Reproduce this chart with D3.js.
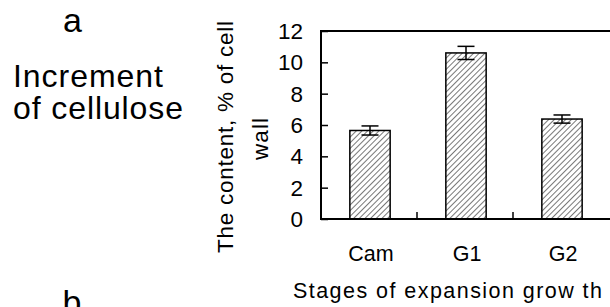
<!DOCTYPE html>
<html>
<head>
<meta charset="utf-8">
<script src="https://cdn.jsdelivr.net/npm/d3@7"></script>
<style>
  html, body { margin: 0; padding: 0; background: #fff; }
  svg { display: block; font-family: "Liberation Sans", Arial, sans-serif; }
</style>
</head>
<body>
<svg id="chart" width="610" height="307"></svg>
<script>
const categories = ["Cam", "G1", "G2"];
const values = [5.65, 10.6, 6.38];
const errors = [0.29, 0.42, 0.26];
const yTicks = [0, 2, 4, 6, 8, 10, 12];

const svg = d3.select("#chart");
const x = d3.scaleBand().domain(categories).range([322, 610]).paddingInner(0.58).paddingOuter(0.29);
const xb = d3.scaleBand().domain(categories).range([322, 610]);
const y = d3.scaleLinear().domain([0, 12]).range([219, 31]);

const defs = svg.append("defs");
const pat = defs.append("pattern").attr("id", "hatch").attr("patternUnits", "userSpaceOnUse")
  .attr("width", 4).attr("height", 4).attr("patternTransform", "rotate(45)");
pat.append("rect").attr("width", 4).attr("height", 4).attr("fill", "#fff");
pat.append("line").attr("x1", 0).attr("y1", 0).attr("x2", 0).attr("y2", 4)
  .attr("stroke", "#555").attr("stroke-width", 1.6);

// bars
svg.selectAll("rect.bar").data(categories).enter().append("rect")
  .attr("class", "bar")
  .attr("x", d => x(d))
  .attr("width", x.bandwidth())
  .attr("y", (d, i) => y(values[i]))
  .attr("height", (d, i) => y(0) - y(values[i]))
  .attr("fill", "url(#hatch)")
  .attr("stroke", "#000").attr("stroke-width", 1.5);

// error bars
const capW = 17;
categories.forEach((c, i) => {
  const cx = x(c) + x.bandwidth() / 2;
  const g = svg.append("g").attr("stroke", "#000").attr("stroke-width", 1.5);
  g.append("line").attr("x1", cx).attr("x2", cx).attr("y1", y(values[i] + errors[i])).attr("y2", y(values[i] - errors[i]));
  g.append("line").attr("x1", cx - capW / 2).attr("x2", cx + capW / 2).attr("y1", y(values[i] + errors[i])).attr("y2", y(values[i] + errors[i]));
  g.append("line").attr("x1", cx - capW / 2).attr("x2", cx + capW / 2).attr("y1", y(values[i] - errors[i])).attr("y2", y(values[i] - errors[i]));
});

// frame
svg.append("rect").attr("x", 321).attr("y", y(12)).attr("width", 300).attr("height", y(0) - y(12))
  .attr("fill", "none").attr("stroke", "#000").attr("stroke-width", 2);

// y axis
const yAxis = d3.axisRight(y).tickValues(yTicks).tickSize(7).tickFormat("");
const ya = svg.append("g").attr("transform", "translate(321,0)").call(yAxis);
ya.select(".domain").remove();
ya.selectAll(".tick line").attr("stroke", "#000").attr("stroke-width", 1.5);
svg.selectAll("text.ytick").data(yTicks).enter().append("text")
  .attr("class", "ytick")
  .attr("x", 303).attr("y", d => y(d)).attr("dy", "0.36em")
  .attr("text-anchor", "end").attr("font-size", 22.5).text(d => d);

// x separators
const seps = categories.slice(1).map(c => xb(c));
svg.selectAll("line.sep").data(seps).enter().append("line")
  .attr("class", "sep")
  .attr("x1", d => d - 1).attr("x2", d => d - 1).attr("y1", y(0)).attr("y2", y(0) - 7)
  .attr("stroke", "#000").attr("stroke-width", 1.5);

// category labels
svg.selectAll("text.xcat").data(categories).enter().append("text")
  .attr("class", "xcat")
  .attr("x", d => x(d) + x.bandwidth() / 2 + 1).attr("y", 261)
  .attr("text-anchor", "middle").attr("font-size", 21.5).text(d => d);

// axis titles
svg.append("text").attr("x", 293).attr("y", 298).attr("font-size", 21.5)
  .attr("textLength", 309).attr("lengthAdjust", "spacing").text("Stages of expansion grow th");

svg.append("text").attr("transform", "translate(233,137) rotate(-90)")
  .attr("text-anchor", "middle").attr("font-size", 22.5)
  .attr("textLength", 232).attr("lengthAdjust", "spacing").text("The content, % of cell");
svg.append("text").attr("transform", "translate(268,139) rotate(-90)")
  .attr("text-anchor", "middle").attr("font-size", 22.5)
  .attr("textLength", 42).attr("lengthAdjust", "spacing").text("wall");

// panel labels
svg.append("text").attr("x", 72.5).attr("y", 32).attr("text-anchor", "middle").attr("font-size", 34).text("a");
svg.append("text").attr("x", 13).attr("y", 87).attr("font-size", 32)
  .attr("textLength", 150).attr("lengthAdjust", "spacing").text("Increment");
svg.append("text").attr("x", 13).attr("y", 119).attr("font-size", 32)
  .attr("textLength", 170).attr("lengthAdjust", "spacing").text("of cellulose");
svg.append("text").attr("x", 72).attr("y", 314).attr("text-anchor", "middle").attr("font-size", 34).text("b");
</script>
</body>
</html>
